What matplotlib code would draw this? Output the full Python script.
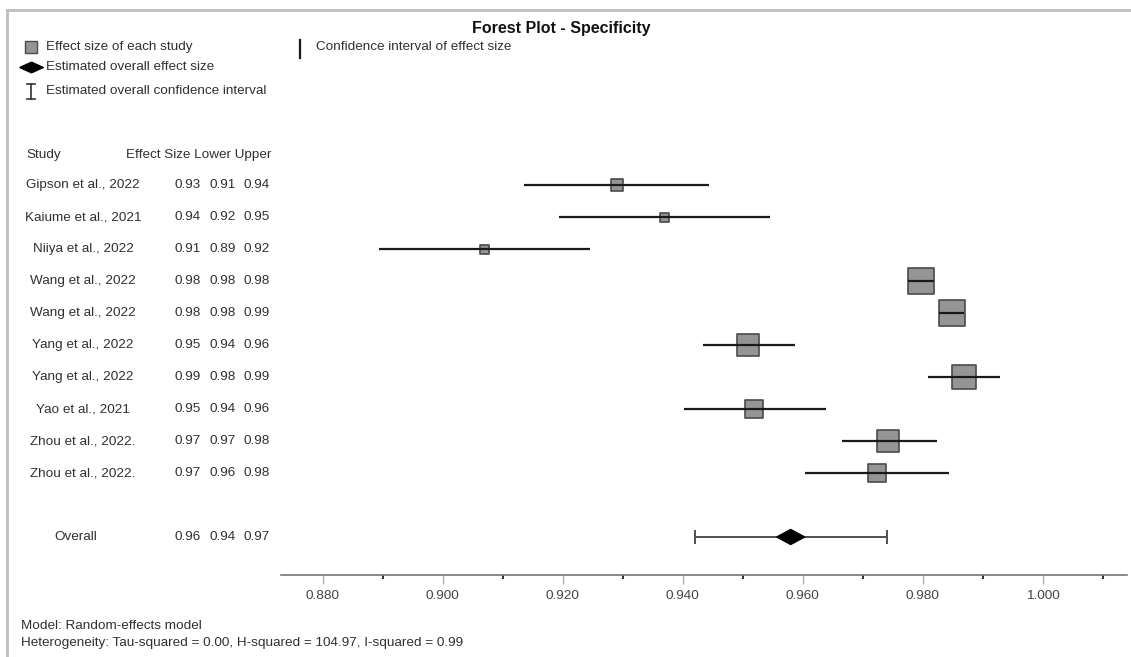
import matplotlib
matplotlib.use("Agg")
import matplotlib.pyplot as plt
import matplotlib.transforms as mtransforms
from matplotlib.lines import Line2D
from matplotlib.patches import Polygon
from matplotlib.path import Path

plt.rcParams['font.family'] = ['Liberation Sans', 'DejaVu Sans']

# --- data ---
studies = ["Gipson et al., 2022", "Kaiume et al., 2021", "Niiya et al., 2022",
           "Wang et al., 2022", "Wang et al., 2022", "Yang et al., 2022",
           "Yang et al., 2022", "Yao et al., 2021", "Zhou et al., 2022.",
           "Zhou et al., 2022."]
effect = [0.9290, 0.9369, 0.9069, 0.9797, 0.9848, 0.9509, 0.9868, 0.9519, 0.9742, 0.9724]
lower  = [0.9135, 0.9194, 0.8894, 0.9776, 0.9827, 0.9434, 0.9809, 0.9402, 0.9666, 0.9604]
upper  = [0.9444, 0.9546, 0.9246, 0.9818, 0.9869, 0.9587, 0.9929, 0.9639, 0.9824, 0.9844]
box_px = [12, 9, 9, 26, 26, 22, 24, 18, 22, 18]   # square side (weight)

overall_es, overall_lo, overall_hi = 0.9580, 0.9421, 0.9741

major_ticks = [0.88, 0.90, 0.92, 0.94, 0.96, 0.98, 1.00]
minor_ticks = [0.89, 0.91, 0.93, 0.95, 0.97, 0.99, 1.01]

W, H = 1131, 657
def fx(x): return x / W
def fy(y): return 1 - y / H

TXT = '#303030'
FS = 9.7

fig = plt.figure(figsize=(W / 100, H / 100), dpi=100, facecolor='white')

# plot area: axis line at y=575, rows start at y=185 with 32px spacing
ax = fig.add_axes([fx(281), fy(575), fx(1127) - fx(281), fy(140) - fy(575)])
ax.set_xlim(0.87305, 1.01405)
ax.set_ylim(12.1875, -1.40625)
ax.set_facecolor('none')
for s in ['top', 'left', 'right']:
    ax.spines[s].set_visible(False)
ax.spines['bottom'].set_color('#777777')
ax.spines['bottom'].set_linewidth(1.2)
ax.set_yticks([])
ax.set_xticks(major_ticks)
ax.set_xticklabels([f"{t:.3f}" for t in major_ticks], color='#444444', fontsize=FS)
ax.set_xticks(minor_ticks, minor=True)
ax.tick_params(axis='x', which='major', length=6.5, width=1, color='#b0b0b0', pad=4)
ax.tick_params(axis='x', which='minor', length=3, width=1.5, color='#333333')

rows = list(range(len(studies)))
overall_row = 11

# confidence intervals + weighted squares
ax.scatter(effect, rows, marker='s', s=[(b * 0.72) ** 2 for b in box_px],
           facecolor='#959595', edgecolor='#4a4a4a', linewidth=1.2, zorder=3)
ax.hlines(rows, lower, upper, color='#1a1a1a', linewidth=1.6, zorder=4)

# overall estimate
ax.errorbar([overall_es], [overall_row],
            xerr=[[overall_es - overall_lo], [overall_hi - overall_es]],
            fmt='none', ecolor='#505050', elinewidth=1.4, capsize=5, capthick=1.4, zorder=3)
dw, dh = 14 / 6000, 7.5 / 32
ax.add_patch(Polygon([(overall_es - dw, overall_row), (overall_es, overall_row - dh),
                      (overall_es + dw, overall_row), (overall_es, overall_row + dh)],
                     closed=True, facecolor='black', edgecolor='black', zorder=5))

# table on the left (x in figure, y in data rows)
trans = mtransforms.blended_transform_factory(fig.transFigure, ax.transData)
ax.text(fx(26), -0.9375, "Study", transform=trans, fontsize=FS, color=TXT, va='center')
ax.text(fx(271), -0.9375, "Effect Size Lower Upper", transform=trans, fontsize=FS,
        color=TXT, ha='right', va='center')
for i, name in enumerate(studies):
    ax.text(fx(83), i, name, transform=trans, fontsize=FS, color=TXT, ha='center', va='center')
    for xc, v in zip([188, 223, 257], [effect[i], lower[i], upper[i]]):
        ax.text(fx(xc), i, f"{v:.2f}", transform=trans, fontsize=FS, color=TXT,
                ha='center', va='center')
ax.text(fx(76), overall_row, "Overall", transform=trans, fontsize=FS, color=TXT,
        ha='center', va='center')
for xc, v in zip([188, 223, 257], [overall_es, overall_lo, overall_hi]):
    ax.text(fx(xc), overall_row, f"{v:.2f}", transform=trans, fontsize=FS, color=TXT,
            ha='center', va='center')

# title
fig.text(fx(561), fy(28), "Forest Plot - Specificity", fontsize=11.5, fontweight='bold',
         color='#111111', ha='center', va='center')

# legend
diamond = Path([(-1, 0), (0, 0.45), (1, 0), (0, -0.45), (-1, 0)])
fig.add_artist(Line2D([fx(31)], [fy(47)], marker='s', markersize=9, linestyle='none',
                      markerfacecolor='#959595', markeredgecolor='#4a4a4a'))
fig.add_artist(Line2D([fx(31)], [fy(67)], marker=diamond, markersize=17, linestyle='none',
                      color='black'))
fig.add_artist(Line2D([fx(31), fx(31)], [fy(84), fy(99)], color='#333333', lw=1.2))
fig.add_artist(Line2D([fx(27), fx(35)], [fy(84), fy(84)], color='#333333', lw=1.2))
fig.add_artist(Line2D([fx(27), fx(35)], [fy(99), fy(99)], color='#333333', lw=1.2))
fig.add_artist(Line2D([fx(300), fx(300)], [fy(40), fy(58)], color='#1a1a1a', lw=1.6))
fig.text(fx(46), fy(47), "Effect size of each study", fontsize=FS, color=TXT, va='center')
fig.text(fx(46), fy(67), "Estimated overall effect size", fontsize=FS, color=TXT, va='center')
fig.text(fx(46), fy(91), "Estimated overall confidence interval", fontsize=FS, color=TXT, va='center')
fig.text(fx(316), fy(47), "Confidence interval of effect size", fontsize=FS, color=TXT, va='center')

# footnotes
fig.text(fx(21), fy(626), "Model: Random-effects model", fontsize=FS, color=TXT, va='center')
fig.text(fx(21), fy(643), "Heterogeneity: Tau-squared = 0.00, H-squared = 104.97, I-squared = 0.99",
         fontsize=FS, color=TXT, va='center')

# outer frame (top and left edges)
fig.add_artist(Line2D([fx(7), 1], [fy(10), fy(10)], color='#bdbdbd', lw=2))
fig.add_artist(Line2D([fx(7), fx(7)], [fy(10), 0], color='#bdbdbd', lw=2))

fig.savefig("out.png", dpi=100, facecolor='white')
